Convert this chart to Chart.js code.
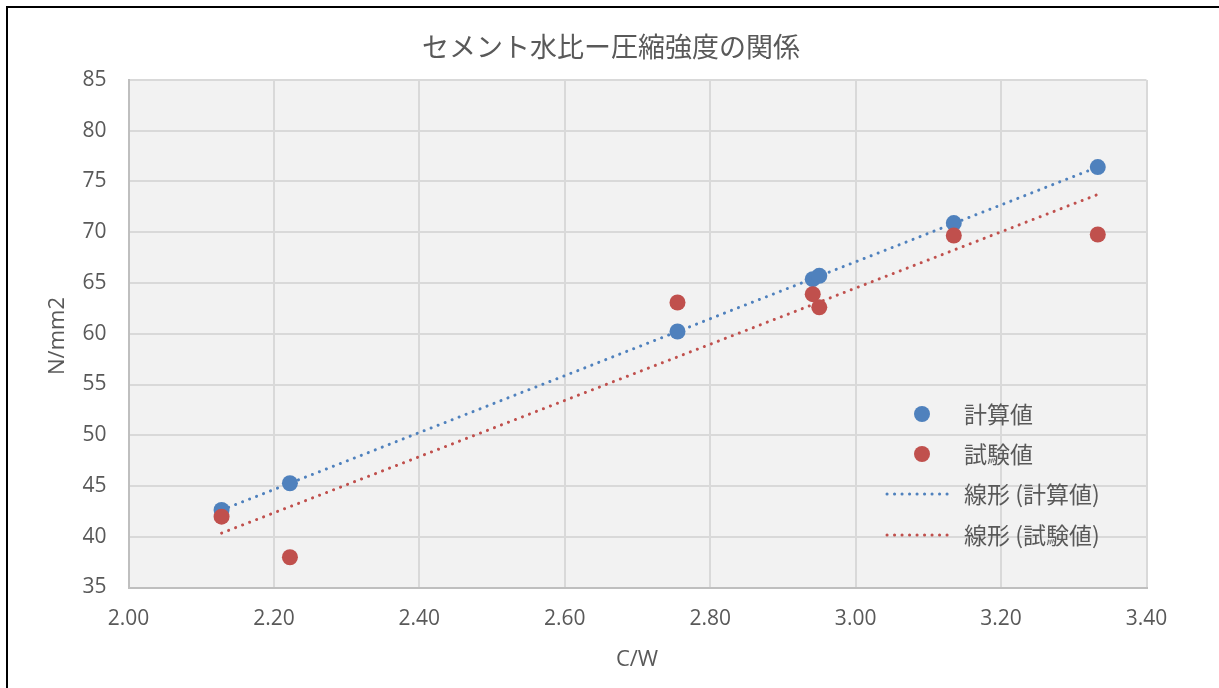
<!DOCTYPE html>
<html>
<head>
<meta charset="utf-8">
<script src="https://cdn.jsdelivr.net/npm/chart.js@4/dist/chart.umd.min.js"></script>
<style>
  html, body { margin: 0; padding: 0; background: #fff; overflow: hidden; width: 1219px; height: 688px; }
  #frame { position: absolute; left: 6px; top: 6px; width: 1400px; height: 900px; border: 2px solid #000; box-sizing: border-box; }
  #wrap { position: absolute; left: 0; top: 0; width: 1219px; height: 688px; }
</style>
</head>
<body>
<div id="frame"></div>
<div id="wrap"><canvas id="c" width="1219" height="688"></canvas></div>
<script>
// ---- data ----
const titleText = 'セメント水比ー圧縮強度の関係';
const xTitle = 'C/W';
const yTitle = 'N/mm2';
const cwValues = [2.128, 2.222, 2.755, 2.941, 2.950, 3.135, 3.333];
const calcValues = [42.64, 45.27, 60.22, 65.38, 65.71, 70.90, 76.42];
const testValues = [41.98, 37.98, 63.08, 63.90, 62.60, 69.68, 69.78];
const seriesNames = ['計算値', '試験値'];
const trendNames = ['線形 (計算値)', '線形 (試験値)'];
const yTicks = { min: 35, max: 85, step: 5 };
const xTicks = { min: 2.0, max: 3.4, step: 0.2 };

const BLUE = '#4f81bd';
const RED = '#c0504d';
const TEXT = '#595959';

function pts(xs, ys) { return xs.map((x, i) => ({ x: x, y: ys[i] })); }
// least-squares linear trendline (as the spreadsheet's "線形" trendline)
function trend(xs, ys) {
  const n = xs.length;
  const mx = xs.reduce((a, b) => a + b, 0) / n;
  const my = ys.reduce((a, b) => a + b, 0) / n;
  let sxy = 0, sxx = 0;
  for (let i = 0; i < n; i++) { sxy += (xs[i] - mx) * (ys[i] - my); sxx += (xs[i] - mx) * (xs[i] - mx); }
  const k = sxy / sxx, b = my - k * mx;
  const x0 = Math.min(...xs), x1 = Math.max(...xs);
  return [{ x: x0, y: k * x0 + b }, { x: x1, y: k * x1 + b }];
}

const bgPlugin = {
  id: 'bg',
  beforeDraw(chart) {
    const { ctx, chartArea: a } = chart;
    ctx.save();
    ctx.fillStyle = '#f2f2f2';
    ctx.fillRect(a.left, a.top, a.right - a.left, a.bottom - a.top);
    ctx.restore();
  }
};

const textPlugin = {
  id: 'texts',
  afterDraw(chart) {
    const { ctx } = chart;
    ctx.save();
    ctx.fillStyle = TEXT;
    ctx.textAlign = 'center';
    ctx.textBaseline = 'middle';
    ctx.font = '27px "Noto Sans CJK JP", sans-serif';
    ctx.fillText(titleText, 611, 47);
    ctx.font = '22px "Open Sans", sans-serif';
    ctx.fillText(xTitle, 637, 660);
    ctx.save();
    ctx.translate(58, 336);
    ctx.rotate(-Math.PI / 2);
    ctx.fillText(yTitle, 0, 0);
    ctx.restore();

    // legend
    const lx = 922, tx = 964;
    const rows = [414, 454, 494, 535];
    ctx.textAlign = 'left';
    ctx.font = '23px "Noto Sans CJK JP", sans-serif';
    [BLUE, RED].forEach((c, i) => {
      ctx.beginPath();
      ctx.fillStyle = c;
      ctx.arc(lx, rows[i], 8, 0, Math.PI * 2);
      ctx.fill();
      ctx.fillStyle = TEXT;
      ctx.fillText(seriesNames[i], tx, rows[i]);
    });
    [BLUE, RED].forEach((c, i) => {
      const y = rows[i + 2];
      ctx.beginPath();
      ctx.strokeStyle = c;
      ctx.lineWidth = 3;
      ctx.lineCap = 'round';
      ctx.setLineDash([0.1, 7.4]);
      ctx.moveTo(887, y);
      ctx.lineTo(954, y);
      ctx.stroke();
      ctx.setLineDash([]);
      ctx.fillStyle = TEXT;
      ctx.fillText(trendNames[i], tx, y);
    });
    ctx.restore();
  }
};

new Chart(document.getElementById('c'), {
  type: 'scatter',
  data: {
    datasets: [
      { label: seriesNames[0], data: pts(cwValues, calcValues), backgroundColor: BLUE, borderColor: BLUE, pointRadius: 8, pointHoverRadius: 8, borderWidth: 0, order: 1 },
      { label: seriesNames[1], data: pts(cwValues, testValues), backgroundColor: RED, borderColor: RED, pointRadius: 8, pointHoverRadius: 8, borderWidth: 0, order: 0 },
      { label: trendNames[0], type: 'line', data: trend(cwValues, calcValues), borderColor: BLUE, borderWidth: 3, borderDash: [0.1, 7.4], borderCapStyle: 'round', pointRadius: 0, fill: false, order: 3 },
      { label: trendNames[1], type: 'line', data: trend(cwValues, testValues), borderColor: RED, borderWidth: 3, borderDash: [0.1, 7.4], borderCapStyle: 'round', pointRadius: 0, fill: false, order: 2 }
    ]
  },
  options: {
    responsive: false,
    animation: false,
    events: [],
    layout: { padding: { left: 0, top: 80, right: 72.5, bottom: 0 } },
    plugins: { legend: { display: false }, title: { display: false }, tooltip: { enabled: false } },
    scales: {
      x: {
        type: 'linear', min: xTicks.min, max: xTicks.max,
        afterFit(s) { s.height = 100.5; },
        grid: { color: '#d9d9d9', lineWidth: 2, drawTicks: false },
        border: { color: '#bfbfbf', width: 2 },
        ticks: { stepSize: xTicks.step, padding: 19, color: TEXT, font: { family: 'Open Sans', size: 21 }, callback: v => Number(v).toFixed(2) }
      },
      y: {
        min: yTicks.min, max: yTicks.max,
        afterFit(s) { s.width = 128.5; },
        grid: { color: '#d9d9d9', lineWidth: 2, drawTicks: false },
        border: { color: '#bfbfbf', width: 2 },
        ticks: { stepSize: yTicks.step, padding: 22, color: TEXT, font: { family: 'Open Sans', size: 21 } }
      }
    }
  },
  plugins: [bgPlugin, textPlugin]
});
</script>
</body>
</html>
